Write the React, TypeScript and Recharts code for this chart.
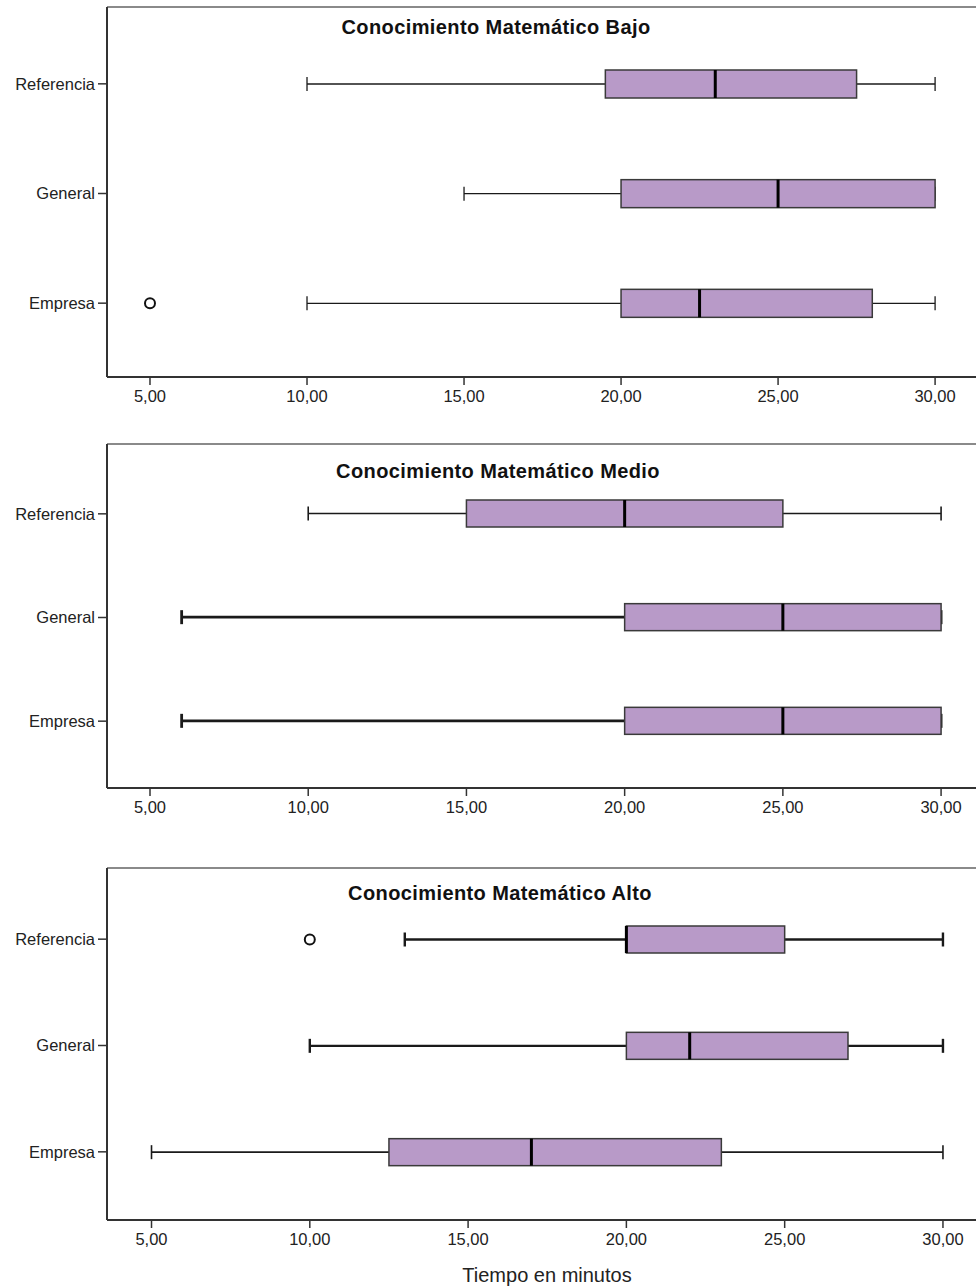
import { Bar, ComposedChart, XAxis, YAxis } from 'recharts'

// Cajas de tiempo (minutos) por grupo y nivel de conocimiento matemático
const grupos = ['Referencia', 'General', 'Empresa']
const marcasTiempo = [5, 10, 15, 20, 25, 30]

const bajoMin = [10, 15, 10]
const bajoQ1 = [19.5, 20, 20]
const bajoMediana = [23, 25, 22.5]
const bajoQ3 = [27.5, 30, 28]
const bajoMax = [30, 30, 30]
const bajoAtipicos = [null, null, 5]

const medioMin = [10, 6, 6]
const medioQ1 = [15, 20, 20]
const medioMediana = [20, 25, 25]
const medioQ3 = [25, 30, 30]
const medioMax = [30, 30, 30]
const medioAtipicos = [null, null, null]

const altoMin = [13, 10, 5]
const altoQ1 = [20, 20, 12.5]
const altoMediana = [20, 22, 17]
const altoQ3 = [25, 27, 23]
const altoMax = [30, 30, 30]
const altoAtipicos = [10, null, null]

type Fila = {
  grupo: string
  min: number
  q1: number
  mediana: number
  q3: number
  max: number
  atipico: number | null
}

const armarFilas = (
  min: number[],
  q1: number[],
  mediana: number[],
  q3: number[],
  max: number[],
  atipicos: (number | null)[]
): Fila[] =>
  grupos.map((grupo, i) => ({
    grupo,
    min: min[i],
    q1: q1[i],
    mediana: mediana[i],
    q3: q3[i],
    max: max[i],
    atipico: atipicos[i]
  }))

const FUENTE = "Arial, 'Liberation Sans', sans-serif"
const ANCHO = 980
const EJE_Y = 107

const paneles = [
  {
    titulo: 'Conocimiento Matemático Bajo',
    filas: armarFilas(bajoMin, bajoQ1, bajoMediana, bajoQ3, bajoMax, bajoAtipicos),
    arriba: 7,
    abajo: 377,
    dominio: [3.631, 31.43],
    relleno: { top: 22, bottom: 19 },
    caja: 28,
    grosor: [1.3, 1.3, 1.3],
    tituloX: 496,
    tituloY: 27
  },
  {
    titulo: 'Conocimiento Matemático Medio',
    filas: armarFilas(medioMin, medioQ1, medioMediana, medioQ3, medioMax, medioAtipicos),
    arriba: 444,
    abajo: 788,
    dominio: [3.641, 31.23],
    relleno: { top: 18, bottom: 15 },
    caja: 27,
    grosor: [1.6, 2.8, 2.8],
    tituloX: 498,
    tituloY: 471
  },
  {
    titulo: 'Conocimiento Matemático Alto',
    filas: armarFilas(altoMin, altoQ1, altoMediana, altoQ3, altoMax, altoAtipicos),
    arriba: 868,
    abajo: 1220,
    dominio: [3.594, 31.17],
    relleno: { top: 18, bottom: 15 },
    caja: 27,
    grosor: [2.4, 2.4, 1.6],
    tituloX: 500,
    tituloY: 893
  }
]

const formatoTiempo = (v: number) => v.toFixed(2).replace('.', ',')

const bigote = (grosor: number[]) => (props: any) => {
  const { x, y, width, height, payload } = props
  const cy = y + height / 2
  const sw = grosor[grupos.indexOf(payload.grupo)] ?? 1.3
  return (
    <g stroke="#1a1a1a" strokeWidth={sw}>
      <line x1={x} x2={x + width} y1={cy} y2={cy} />
      <line x1={x} x2={x} y1={cy - 7} y2={cy + 7} />
      <line x1={x + width} x2={x + width} y1={cy - 7} y2={cy + 7} />
    </g>
  )
}

const caja = (props: any) => {
  const { x, y, width, height } = props
  return (
    <rect
      x={x}
      y={y}
      width={width}
      height={height}
      fill="#b89ac8"
      stroke="#3a3a3a"
      strokeWidth={1.5}
    />
  )
}

const mediana = (props: any) => {
  const { x, y, height } = props
  return <line x1={x} x2={x} y1={y} y2={y + height} stroke="#000" strokeWidth={3} />
}

const atipico = (props: any) => {
  const { x, y, height, payload } = props
  if (payload.atipico == null || !Number.isFinite(x)) return <g />
  return <circle cx={x} cy={y + height / 2} r={5} fill="#fff" stroke="#111" strokeWidth={2} />
}

export default function App() {
  return (
    <div
      style={{
        position: 'absolute',
        left: 0,
        top: 0,
        width: 976,
        height: 1286,
        overflow: 'hidden',
        background: '#fff',
        fontFamily: FUENTE
      }}
    >
      {paneles.map((p) => {
        const top = p.arriba - 8
        const alto = p.abajo - top + 30
        return (
          <div key={p.titulo}>
            <div style={{ position: 'absolute', left: 0, top }}>
              <ComposedChart
                layout="vertical"
                width={ANCHO}
                height={alto}
                data={p.filas}
                margin={{ top: 7, right: 0, bottom: 0, left: 0 }}
                barSize={p.caja}
                barGap={-p.caja}
              >
                <XAxis
                  type="number"
                  domain={p.dominio}
                  allowDataOverflow
                  ticks={marcasTiempo}
                  tickFormatter={formatoTiempo}
                  axisLine={{ stroke: '#333', strokeWidth: 2 }}
                  tickLine={{ stroke: '#333', strokeWidth: 1.5 }}
                  tickSize={8}
                  tickMargin={5}
                  tick={{ fill: '#222', fontSize: 16.5, fontFamily: FUENTE }}
                  height={30}
                />
                <XAxis
                  xAxisId="marco"
                  orientation="top"
                  type="number"
                  domain={p.dominio}
                  allowDataOverflow
                  tick={false}
                  tickLine={false}
                  axisLine={{ stroke: '#8a8a8a', strokeWidth: 2 }}
                  height={1}
                />
                <YAxis
                  type="category"
                  dataKey="grupo"
                  width={EJE_Y}
                  padding={p.relleno}
                  axisLine={{ stroke: '#333', strokeWidth: 2 }}
                  tickLine={{ stroke: '#333', strokeWidth: 1.5 }}
                  tickSize={9}
                  tickMargin={3}
                  tick={{ fill: '#222', fontSize: 16.5, fontFamily: FUENTE }}
                />
                <Bar
                  dataKey={(d: Fila) => [d.min, d.max]}
                  shape={bigote(p.grosor)}
                  isAnimationActive={false}
                />
                <Bar dataKey={(d: Fila) => [d.q1, d.q3]} shape={caja} isAnimationActive={false} />
                <Bar
                  dataKey={(d: Fila) => [d.mediana, d.mediana]}
                  shape={mediana}
                  isAnimationActive={false}
                />
                <Bar
                  dataKey={(d: Fila) => (d.atipico == null ? null : [d.atipico, d.atipico])}
                  shape={atipico}
                  isAnimationActive={false}
                />
              </ComposedChart>
            </div>
            <div
              style={{
                position: 'absolute',
                left: p.tituloX - 250,
                width: 500,
                top: p.tituloY - 12,
                lineHeight: '24px',
                textAlign: 'center',
                fontWeight: 'bold',
                fontSize: 20,
                letterSpacing: 0.4,
                color: '#111'
              }}
            >
              {p.titulo}
            </div>
          </div>
        )
      })}
      <div
        style={{
          position: 'absolute',
          left: 347,
          width: 400,
          top: 1263,
          lineHeight: '24px',
          textAlign: 'center',
          fontSize: 20,
          color: '#222'
        }}
      >
        Tiempo en minutos
      </div>
    </div>
  )
}
